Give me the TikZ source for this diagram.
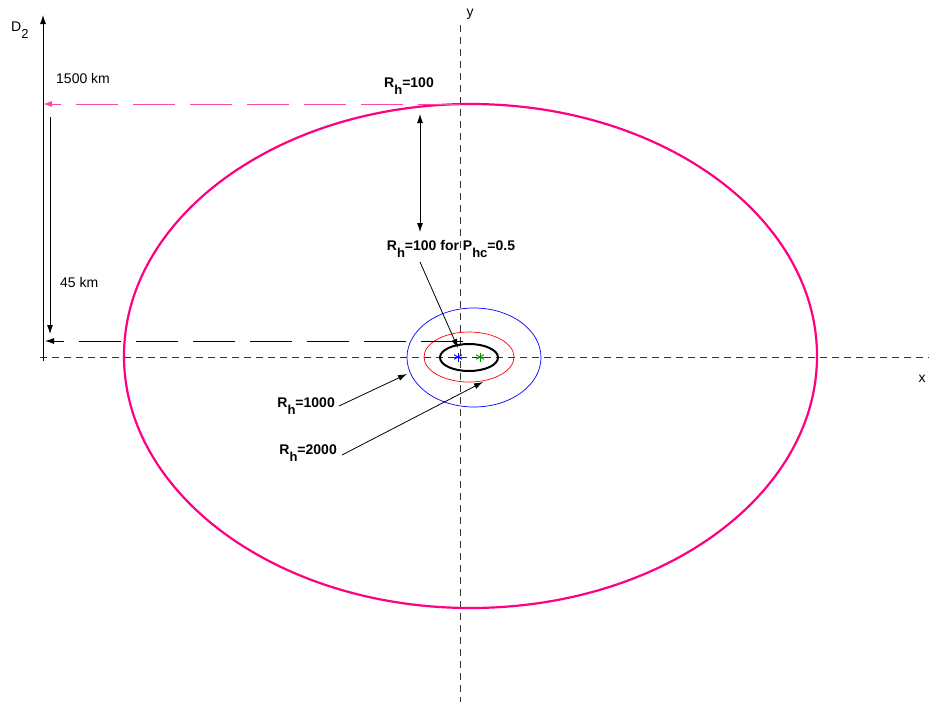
\documentclass[tikz,border=0pt]{standalone}
\usepackage{fontspec}
\setmainfont{Liberation Sans}
\usetikzlibrary{arrows.meta}
\definecolor{hotpink}{RGB}{255,0,128}
\definecolor{lightpink}{RGB}{255,70,160}
\definecolor{stargreen}{RGB}{0,150,0}
\newcommand{\lowsub}[1]{\raisebox{-7pt}{\fontsize{13}{13}\selectfont #1}}
\newcommand{\sbh}{\lowsub{h}}
\begin{document}
\begin{tikzpicture}[x=1pt,y=-1pt,
  font=\fontsize{14}{16}\selectfont,
  axis/.style={draw=black!80, line width=0.8pt, dash pattern=on 7pt off 5pt},
  longdash/.style={line width=0.9pt, dash pattern=on 42pt off 15pt},
  arr/.style={-{Latex[length=9pt,width=6pt]}, line width=0.8pt},
  darr/.style={{Latex[length=9pt,width=6pt]}-{Latex[length=9pt,width=6pt]}, line width=0.8pt},
  lbl/.style={font=\bfseries\fontsize{14}{16}\selectfont, inner sep=1pt},
  txt/.style={inner sep=1pt}]
\useasboundingbox (0,0) rectangle (929,702);
% axes
\coordinate (xl) at (40,357);
\coordinate (xr) at (929,357);
\coordinate (yt) at (460,25);
\coordinate (yb) at (460,702);
\draw[axis] (xl) -- (xr);
\draw[axis] (yt) -- (yb);
\node[txt] (ylab) at (470,14) {y};
\node[txt] (xlab) at (922,379) {x};
% D2 axis
\coordinate (dbot) at (43,361);
\coordinate (dtop) at (43,15);
\draw[arr] (dbot) -- (dtop);
\node[txt, anchor=west] (d2) at (10,30) {D\lowsub{2}};
% ellipses
\draw[hotpink, line width=2.2pt] (470.5,356) ellipse [x radius=346.5, y radius=252];
\draw[blue, line width=0.7pt] (474,357.5) ellipse [x radius=67, y radius=49.5];
\draw[red, line width=0.7pt] (469,357) ellipse [x radius=45, y radius=25];
\draw[black, line width=2pt] (469,357.5) ellipse [x radius=29, y radius=13.5];
% stars
\coordinate (sb) at (458,357);
\coordinate (sg) at (480,357);
\foreach \a in {90,30,150} {
  \draw[blue, line width=0.9pt] (sb) ++(\a:4.5) -- ++(\a+180:9);
  \draw[stargreen, line width=0.9pt] (sg) ++(\a:4.5) -- ++(\a+180:9);
}
\draw[blue, line width=0.9pt] (sb) ++(-3.5,0) -- ++(7,0);
\draw[stargreen, line width=0.9pt] (sg) ++(-3.5,0) -- ++(7,0);
% pink dashed line
\coordinate (ptop) at (460,104);
\coordinate (pend) at (43,104);
\draw[lightpink, longdash, -{Latex[length=9pt,width=6pt]}] (ptop) -- (pend);
% black dashed line
\coordinate (btop) at (463,341);
\coordinate (bend) at (45,341);
\draw[black, longdash, -{Latex[length=9pt,width=6pt]}] (btop) -- (bend);
% 45 km arrow
\coordinate (va) at (50,117);
\coordinate (vb) at (50,334);
\draw[arr] (va) -- (vb);
\node[txt, anchor=west] (l1500) at (55,78) {1500 km};
\node[txt, anchor=west] (l45) at (59,282) {45 km};
% double arrow
\coordinate (da) at (420,114);
\coordinate (db) at (420,232);
\draw[darr] (da) -- (db);
% labels
\node[lbl] (r100) at (409,86) {R\sbh=100};
\node[lbl] (r100p) at (451,249) {R\sbh=100 for P\lowsub{hc}=0.5};
\node[lbl, anchor=east] (r1000) at (336,406) {R\sbh=1000};
\node[lbl, anchor=east] (r2000) at (338,453) {R\sbh=2000};
\coordinate (t100) at (458,348);
\coordinate (t1000) at (407,374);
\coordinate (t2000) at (483,382);
\draw[arr] (420,262) -- (t100);
\draw[arr] (r1000.east) ++(3,0) -- (t1000);
\draw[arr] (r2000.east) ++(4,2) -- (t2000);
\end{tikzpicture}
\end{document}
